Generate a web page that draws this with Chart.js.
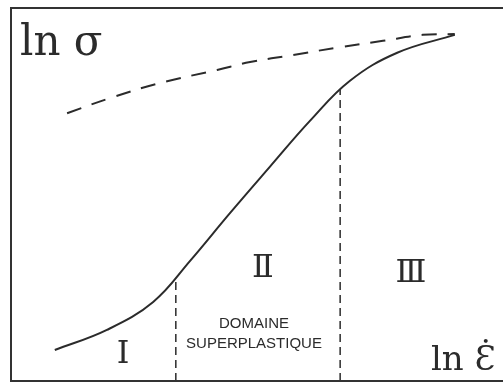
<!DOCTYPE html>
<html>
<head>
<meta charset="utf-8">
<script src="https://cdn.jsdelivr.net/npm/chart.js@4/dist/chart.umd.min.js"></script>
<style>
  html, body { margin: 0; padding: 0; background: #fff; }
  #wrap { width: 503px; height: 383px; }
</style>
</head>
<body>
<div id="wrap"><canvas id="sigma"></canvas></div>
<script>
// ln(strain rate) on x, ln(stress) on y, arbitrary units 0..10
const courbeX = [0.89, 1.95, 2.89, 3.64, 4.45, 5.26, 6.08, 6.89, 7.85, 9.02];
const courbeY = [0.83, 1.37, 2.12, 3.22, 4.50, 5.74, 6.98, 8.05, 8.80, 9.28];

const tiretX = [1.14, 2.07, 3.03, 4.19, 4.86, 5.73, 6.69, 7.56, 8.37, 9.02];
const tiretY = [7.18, 7.61, 7.99, 8.34, 8.55, 8.74, 8.95, 9.12, 9.28, 9.30];

// limits of the superplastic domain
const limites = [3.35, 6.69];
const limitesHaut = [2.72, 7.80];

const zones = ['Ⅰ', 'Ⅱ', 'Ⅲ'];

const pts = (xs, ys) => xs.map((x, i) => ({x: x, y: ys[i]}));
const ink = '#2b2b2b';

const textes = {
  id: 'textes',
  afterDatasetsDraw(chart) {
    const ctx = chart.ctx, a = chart.chartArea;
    const sx = chart.scales.x, sy = chart.scales.y;
    ctx.save();
    // frame: left, top, bottom
    ctx.strokeStyle = '#333';
    ctx.lineWidth = 2;
    ctx.beginPath();
    ctx.moveTo(503, a.top); ctx.lineTo(a.left, a.top);
    ctx.lineTo(a.left, a.bottom); ctx.lineTo(503, a.bottom);
    ctx.stroke();

    ctx.fillStyle = ink;
    ctx.textAlign = 'left';
    ctx.textBaseline = 'alphabetic';
    ctx.font = '42px "DejaVu Serif"';
    ctx.fillText('ln σ', 20, 55);
    ctx.font = '34px "DejaVu Serif"';
    ctx.fillText('ln Ɛ̇', 431, 370);

    ctx.textAlign = 'center';
    ctx.font = '32px "DejaVu Serif"';
    const zx = [2.28, 5.12, 8.13], zy = [0.48, 2.79, 2.65];
    zones.forEach((z, i) => ctx.fillText(z, sx.getPixelForValue(zx[i]), sy.getPixelForValue(zy[i])));

    ctx.font = '15px "Liberation Sans"';
    ctx.fillText('DOMAINE', 254, 328);
    ctx.fillText('SUPERPLASTIQUE', 254, 348);
    ctx.restore();
  }
};

new Chart(document.getElementById('sigma'), {
  type: 'scatter',
  data: {
    datasets: [
      {
        data: pts(courbeX, courbeY),
        showLine: true,
        borderColor: ink,
        borderWidth: 2,
        pointRadius: 0,
        tension: 0.4
      },
      {
        data: pts(tiretX, tiretY),
        showLine: true,
        borderColor: ink,
        borderWidth: 2,
        borderDash: [15, 11],
        pointRadius: 0,
        tension: 0.4
      },
      {
        data: [{x: limites[0], y: 0}, {x: limites[0], y: limitesHaut[0]}],
        showLine: true,
        borderColor: ink,
        borderWidth: 1.5,
        borderDash: [8, 5],
        pointRadius: 0
      },
      {
        data: [{x: limites[1], y: 0}, {x: limites[1], y: limitesHaut[1]}],
        showLine: true,
        borderColor: ink,
        borderWidth: 1.5,
        borderDash: [8, 5],
        pointRadius: 0
      }
    ]
  },
  options: {
    responsive: true,
    maintainAspectRatio: false,
    animation: false,
    layout: { padding: { left: 11, top: 8, right: 0, bottom: 2 } },
    plugins: { legend: { display: false }, tooltip: { enabled: false } },
    scales: {
      x: { type: 'linear', min: 0, max: 10, display: false },
      y: { type: 'linear', min: 0, max: 10, display: false }
    }
  },
  plugins: [textes]
});
</script>
</body>
</html>
